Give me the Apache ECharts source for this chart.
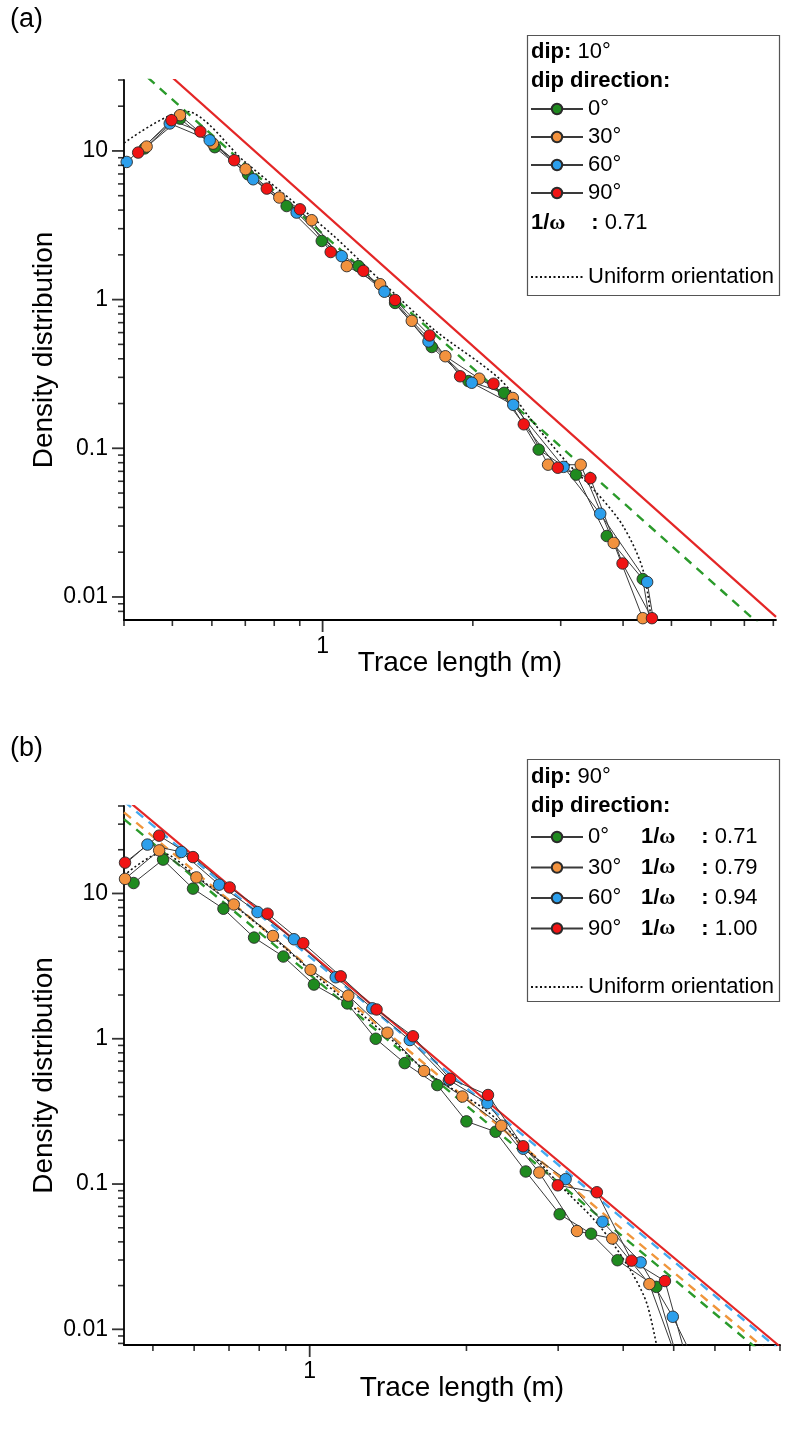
<!DOCTYPE html>
<html><head><meta charset="utf-8">
<script src="https://cdn.jsdelivr.net/npm/echarts@6/dist/echarts.min.js"></script>
<style>html,body{margin:0;padding:0;background:#fff}#c{width:787px;height:1432px}</style>
</head><body><div id="c"></div>
<script>
// ---------------- DATA: panel (a) dip 10° ----------------
const greenA  = [[0.44,10.4],[0.518,16.5],[0.608,10.6],[0.709,6.96],[0.847,4.26],[0.996,2.48],[1.18,1.68],[1.397,0.95],[1.655,0.48],[1.96,0.283],[2.31,0.236],[2.71,0.098],[3.22,0.0665],[3.71,0.0257],[4.38,0.0132],[5.15,0.0005]];
const orangeA = [[0.444,10.7],[0.518,17.4],[0.603,11.2],[0.701,7.53],[0.819,4.86],[0.951,3.42],[1.118,1.68],[1.304,1.27],[1.509,0.72],[1.762,0.416],[2.06,0.294],[2.405,0.218],[2.83,0.0776],[3.29,0.0775],[3.83,0.0231],[4.38,0.0072]];
const blueA   = [[0.405,8.43],[0.494,15.3],[0.594,11.8],[0.726,6.45],[0.887,3.85],[1.092,1.96],[1.33,1.13],[1.63,0.523],[1.99,0.276],[2.41,0.196],[3.04,0.075],[3.6,0.0363],[4.47,0.0126],[5.3,0.0004]];
const redA    = [[0.427,9.75],[0.498,16.1],[0.569,13.5],[0.665,8.66],[0.773,5.58],[0.901,4.05],[1.038,2.09],[1.207,1.56],[1.397,0.994],[1.638,0.574],[1.886,0.305],[2.2,0.272],[2.53,0.145],[2.96,0.074],[3.44,0.063],[3.99,0.0168],[4.57,0.0072]];
const uniformA = [[0.4,11.3],[0.53,18.5],[0.7,8.4],[1.035,2.82],[1.32,1.3],[1.67,0.63],[2.27,0.29],[2.6,0.16],[3.09,0.080],[3.49,0.053],[4.0,0.03],[4.4,0.0146],[4.6,0.005]];
const fitGreenA = [[0.4,43.3],[8.1,0.0052]];   // dashed, 1/ω = 0.71
const fitRedA   = [[0.4,60.9],[8.1,0.00734]];  // solid reference line

// ---------------- DATA: panel (b) dip 90° ----------------
const greenB  = [[0.459,11.8],[0.523,17.1],[0.597,10.8],[0.683,7.85],[0.782,4.97],[0.89,3.68],[1.019,2.36],[1.181,1.75],[1.339,1.0],[1.522,0.68],[1.758,0.48],[2.0,0.27],[2.275,0.229],[2.6,0.122],[3.02,0.062],[3.47,0.0455],[3.9,0.0299],[4.63,0.0196],[5.4,0.003]];
const orangeB = [[0.442,12.6],[0.514,19.8],[0.606,12.9],[0.715,8.4],[0.85,5.1],[1.004,2.98],[1.186,1.98],[1.41,1.10],[1.658,0.6],[1.964,0.40],[2.333,0.252],[2.76,0.120],[3.26,0.0475],[3.81,0.0422],[4.49,0.0205],[5.3,0.004]];
const blueB   = [[0.414,13],[0.488,21.7],[0.567,19.3],[0.67,11.5],[0.794,7.45],[0.933,4.84],[1.122,2.65],[1.319,1.62],[1.557,0.98],[1.851,0.52],[2.194,0.36],[2.57,0.175],[3.1,0.108],[3.65,0.055],[4.32,0.0289],[4.98,0.0122],[5.8,0.004]];
const redB    = [[0.442,16.3],[0.514,25],[0.597,17.8],[0.702,11.0],[0.83,7.26],[0.972,4.55],[1.147,2.69],[1.344,1.59],[1.579,1.04],[1.86,0.53],[2.2,0.41],[2.57,0.182],[2.995,0.098],[3.56,0.0878],[4.15,0.0297],[4.81,0.0215],[5.6,0.003]];
const uniformB = [[0.44,13.3],[0.52,19.0],[0.6,13.5],[0.816,5.67],[1.03,2.71],[1.43,1.0],[1.71,0.56],[2.16,0.33],[2.57,0.187],[3.07,0.093],[3.5,0.058],[3.83,0.0385],[4.18,0.0237],[4.45,0.0147],[4.7,0.006]];
const fitGreenB  = [[0.44,32.5],[8.0,0.00541]];  // 1/ω 0.71
const fitOrangeB = [[0.44,36.2],[8.0,0.00602]];  // 1/ω 0.79
const fitBlueB   = [[0.44,43.1],[8.0,0.00717]];  // 1/ω 0.94
const fitRedB    = [[0.44,45.8],[8.0,0.00762]];  // 1/ω 1.00

// ---------------- axes / labels ----------------
const xRangeA = [0.4, 8.1], yRangeA = [0.007, 30];
const xRangeB = [0.44, 8.0], yRangeB = [0.0078, 40];
const xMajor = [1];
const xMinorA = [0.4,0.5,0.6,0.7,0.8,0.9,2,3,4,5,6,7,8];
const xMinorB = [0.5,0.6,0.7,0.8,0.9,2,3,4,5,6,7,8];
const yMajor = [0.01,0.1,1,10];
const yMinorA = [0.008,0.009,0.02,0.03,0.04,0.05,0.06,0.07,0.08,0.09,0.2,0.3,0.4,0.5,0.6,0.7,0.8,0.9,2,3,4,5,6,7,8,9,20,30];
const yMinorB = [0.008,0.009,0.02,0.03,0.04,0.05,0.06,0.07,0.08,0.09,0.2,0.3,0.4,0.5,0.6,0.7,0.8,0.9,2,3,4,5,6,7,8,9,20,30,40];
const dipDirs = ['0°','30°','60°','90°'];
const omegaB = ['0.71','0.79','0.94','1.00'];
const omegaA = '0.71';
const xTitle = 'Trace length (m)', yTitle = 'Density distribution';

const FONT = "'Liberation Sans', Arial, Helvetica, sans-serif";
const C = {green:'#1f8a1f', orange:'#f2923e', blue:'#2c9fec', red:'#f01414', redLine:'#e42626',
           gDash:'#2b9a2b', oDash:'#f0963c', bDash:'#44aaf0'};

const chart = echarts.init(document.getElementById('c'), null, {renderer:'canvas'});

function fmt(v){ return String(parseFloat(Number(v).toPrecision(6))); }

function xAxis(gi, range){
  return {type:'log', gridIndex:gi, min:range[0], max:range[1],
    axisLine:{show:true, onZero:false, lineStyle:{color:'#000', width:1.8}},
    axisTick:{show:false}, splitLine:{show:false}, minorTick:{show:false},
    axisLabel:{show:true, showMinLabel:false, showMaxLabel:false, margin:15, fontSize:23, color:'#000', fontFamily:FONT, formatter:fmt},
    name:xTitle, nameLocation:'middle', nameGap:29, nameMoveOverlap:false,
    nameTextStyle:{fontSize:28, color:'#000', fontFamily:FONT, padding:[0,0,0,20]}};
}
function yAxis(gi, range){
  return {type:'log', gridIndex:gi, min:range[0], max:range[1],
    axisLine:{show:true, onZero:false, lineStyle:{color:'#000', width:1.8}},
    axisTick:{show:false}, splitLine:{show:false}, minorTick:{show:false},
    axisLabel:{show:true, showMinLabel:false, showMaxLabel:false, margin:16, fontSize:23, color:'#000', fontFamily:FONT, formatter:fmt},
    name:yTitle, nameLocation:'middle', nameGap:66, nameMoveOverlap:false,
    nameTextStyle:{fontSize:28, color:'#000', fontFamily:FONT}};
}
function dataSeries(name, data, color, ai){
  return {type:'line', name, xAxisIndex:ai, yAxisIndex:ai, data, symbol:'circle', symbolSize:11.5, clip:true,
    lineStyle:{color:'#3a3a3a', width:1}, itemStyle:{color, borderColor:'#2a2a2a', borderWidth:0.9},
    z:5, silent:true};
}
function fitSeries(name, data, color, ai, dashed){
  return {type:'line', name, xAxisIndex:ai, yAxisIndex:ai, data, symbol:'none', clip:true,
    lineStyle:{color, width: dashed?2.4:2.2, type: dashed?[9,7]:'solid'}, z:2, silent:true};
}
function uniformSeries(name, data, ai){
  return {type:'line', name, xAxisIndex:ai, yAxisIndex:ai, data, symbol:'none', clip:true, smooth:0.3,
    lineStyle:{color:'#111', width:1.6, type:[2,2.5]},
    itemStyle:{color:'rgba(0,0,0,0)', borderColor:'rgba(0,0,0,0)', borderWidth:0, opacity:0}, z:3, silent:true};
}
function tickSeries(ai, data, size, offset){
  return {type:'scatter', xAxisIndex:ai, yAxisIndex:ai, data, symbol:'rect', symbolSize:size, symbolOffset:offset,
    itemStyle:{color:'#000'}, clip:false, silent:true, z:10};
}
function xTicks(ai, yMin, major, minor){
  return [tickSeries(ai, major.map(v=>[v,yMin]), [1.8,12], [0,6]),
          tickSeries(ai, minor.map(v=>[v,yMin]), [1.6,6], [0,3])];
}
function yTicks(ai, xMin, major, minor){
  return [tickSeries(ai, major.map(v=>[xMin,v]), [12,1.8], [-6,0]),
          tickSeries(ai, minor.map(v=>[xMin,v]), [6,1.6], [-3,0])];
}

const labelsA = {a0:dipDirs[0], a30:dipDirs[1], a60:dipDirs[2], a90:dipDirs[3], aU:'Uniform orientation', bU:'Uniform orientation'};
const keysB = ['b0','b30','b60','b90'];

const legendText = {fontSize:22, color:'#000', fontFamily:FONT,
  rich:{d:{fontSize:22, width:53, fontFamily:FONT, color:'#000'},
        b:{fontSize:22, fontWeight:'bold', fontFamily:FONT, color:'#000'},
        w:{fontSize:22, fontWeight:'bold', fontFamily:"'Liberation Serif', serif", color:'#000', width:42},
        v:{fontSize:22, fontFamily:FONT, color:'#000'}}};

function legend(names, top, gap){
  return {orient:'vertical', left:530, top, padding:0, itemWidth:52, itemHeight:13, itemGap:gap,
    data:names, selectedMode:false, textStyle:legendText,
    formatter:(n)=>{
      const i = keysB.indexOf(n);
      if(i>=0) return `{d|${dipDirs[i]}}{b|1/}{w|ω}{b|:}{v| ${omegaB[i]}}`;
      return labelsA[n];
    }};
}

function rich(x, y, text){
  return {type:'text', x, y, z:20, style:{text, fontSize:22, fontFamily:FONT, fill:'#000', verticalAlign:'middle',
    rich:{b:{fontWeight:'bold', fontSize:22, fontFamily:FONT, fill:'#000'},
          n:{fontSize:22, fontFamily:FONT, fill:'#000'},
          w:{fontWeight:'bold', fontSize:22, fontFamily:"'Liberation Serif', serif", fill:'#000', width:42}}}};
}

const option = {
  animation:false,
  backgroundColor:'#fff',
  grid:[{left:124, top:80, width:652, height:540},
        {left:124, top:806, width:656, height:539}],
  xAxis:[xAxis(0,xRangeA), xAxis(1,xRangeB)],
  yAxis:[yAxis(0,yRangeA), yAxis(1,yRangeB)],
  legend:[legend(['a0','a30','a60','a90'], 98, 6), legend(['aU'], 266, 6),
          legend(keysB, 826, 8.5), legend(['bU'], 976, 6)],
  graphic:[
    {type:'text', x:10, y:20, style:{text:'(a)', fontSize:27, fontFamily:FONT, fill:'#000', verticalAlign:'middle'}},
    {type:'text', x:10, y:749, style:{text:'(b)', fontSize:27, fontFamily:FONT, fill:'#000', verticalAlign:'middle'}},
    {type:'rect', z:1, shape:{x:527.5, y:35.5, width:252, height:260}, style:{fill:'#fff', stroke:'#555', lineWidth:1.2}},
    rich(531, 52, '{b|dip:}{n| 10°}'),
    rich(531, 81, '{b|dip direction:}'),
    rich(531, 223, '{b|1/}{w|ω}{b|:}{n| '+omegaA+'}'),
    {type:'rect', z:1, shape:{x:527.5, y:759.5, width:252, height:242}, style:{fill:'#fff', stroke:'#555', lineWidth:1.2}},
    rich(531, 777, '{b|dip:}{n| 90°}'),
    rich(531, 806, '{b|dip direction:}')
  ],
  series:[
    fitSeries('fitRedA', fitRedA, C.redLine, 0, false),
    fitSeries('fitGreenA', fitGreenA, C.gDash, 0, true),
    uniformSeries('aU', uniformA, 0),
    dataSeries('a0', greenA, C.green, 0),
    dataSeries('a30', orangeA, C.orange, 0),
    dataSeries('a60', blueA, C.blue, 0),
    dataSeries('a90', redA, C.red, 0),
    ...xTicks(0, yRangeA[0], xMajor, xMinorA),
    ...yTicks(0, xRangeA[0], yMajor, yMinorA),

    fitSeries('fitGreenB', fitGreenB, C.gDash, 1, true),
    fitSeries('fitOrangeB', fitOrangeB, C.oDash, 1, true),
    fitSeries('fitBlueB', fitBlueB, C.bDash, 1, true),
    fitSeries('fitRedB', fitRedB, C.redLine, 1, false),
    uniformSeries('bU', uniformB, 1),
    dataSeries('b0', greenB, C.green, 1),
    dataSeries('b30', orangeB, C.orange, 1),
    dataSeries('b60', blueB, C.blue, 1),
    dataSeries('b90', redB, C.red, 1),
    ...xTicks(1, yRangeB[0], xMajor, xMinorB),
    ...yTicks(1, xRangeB[0], yMajor, yMinorB)
  ]
};
chart.setOption(option);
</script></body></html>
